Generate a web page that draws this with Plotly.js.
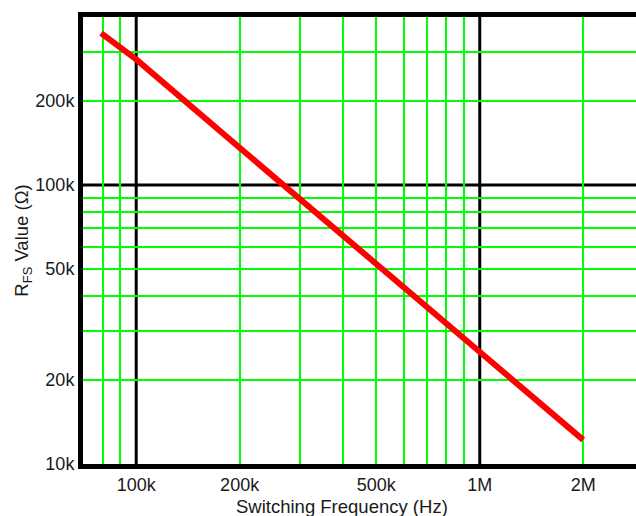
<!DOCTYPE html>
<html>
<head>
<meta charset="utf-8">
<script src="https://cdn.plot.ly/plotly-3.0.1.min.js"></script>
<style>html,body{margin:0;padding:0;background:#fff;}</style>
</head>
<body>
<div id="chart" style="width:636px;height:516px;"></div>
<script>
// Data
const freqHz = [79000, 100000, 200000, 500000, 1000000, 2000000];
const rfsOhm = [350000, 282000, 136000, 52000, 25200, 12200];

// Axis ticks
const xTickVals = [100000, 200000, 500000, 1000000, 2000000];
const xTickText = ['100k', '200k', '500k', '1M', '2M'];
const yTickVals = [10000, 20000, 50000, 100000, 200000];
const yTickText = ['10k', '20k', '50k', '100k', '200k'];

// Grid lines
const xMinorGrid = [80000, 90000, 200000, 300000, 400000, 500000, 600000, 700000, 800000, 900000, 2000000];
const yMinorGrid = [20000, 30000, 40000, 50000, 60000, 70000, 80000, 90000, 200000, 300000];
const xMajorGrid = [100000, 1000000];
const yMajorGrid = [100000];

const xRange = [70000, 2850000];
const yRange = [10000, 400000];

const green = '#00ff00';
const shapes = [];
xMajorGrid.forEach(v => shapes.push({type: 'line', xref: 'x', yref: 'paper', x0: v, x1: v, y0: 0, y1: 1, layer: 'below', line: {color: '#000', width: 3}}));
yMajorGrid.forEach(v => shapes.push({type: 'line', xref: 'paper', yref: 'y', x0: 0, x1: 1, y0: v, y1: v, layer: 'below', line: {color: '#000', width: 3}}));

const trace = {
  x: freqHz, y: rfsOhm, type: 'scatter', mode: 'lines',
  line: {color: '#ff0000', width: 6}, hoverinfo: 'skip'
};

const tickFont = {family: 'Liberation Sans, Arial, sans-serif', size: 18, color: '#1a1a1a'};
const titleFont = {family: 'Liberation Sans, Arial, sans-serif', size: 18.5, color: '#1a1a1a'};

const layout = {
  width: 636, height: 516,
  margin: {l: 83, r: 0, t: 17, b: 52},
  paper_bgcolor: '#fff', plot_bgcolor: '#fff',
  showlegend: false,
  font: tickFont,
  shapes: shapes,
  annotations: [{
    text: 'Switching Frequency (Hz)', font: titleFont,
    xref: 'paper', yref: 'paper', x: 0.468, y: -0.096,
    xanchor: 'center', yanchor: 'middle', showarrow: false
  }],
  xaxis: {
    type: 'log',
    range: xRange.map(Math.log10),
    tickmode: 'array', tickvals: xTickVals, ticktext: xTickText,
    showgrid: false, zeroline: false,
    showline: true, linecolor: '#000', linewidth: 5, mirror: true,
    ticks: '', tickfont: tickFont,
    minor: {tickmode: 'array', tickvals: xMinorGrid, showgrid: true, gridcolor: green, gridwidth: 2, ticks: ''}
  },
  yaxis: {
    type: 'log',
    range: yRange.map(Math.log10),
    tickmode: 'array', tickvals: yTickVals, ticktext: yTickText,
    showgrid: false, zeroline: false,
    showline: true, linecolor: '#000', linewidth: 5, mirror: false,
    ticks: '', tickfont: tickFont,
    minor: {tickmode: 'array', tickvals: yMinorGrid, showgrid: true, gridcolor: green, gridwidth: 2, ticks: ''},
    title: {text: 'R<sub>FS</sub> Value (Ω)', font: titleFont, standoff: 0}
  }
};

Plotly.newPlot('chart', [trace], layout, {displayModeBar: false, staticPlot: true});
</script>
</body>
</html>
